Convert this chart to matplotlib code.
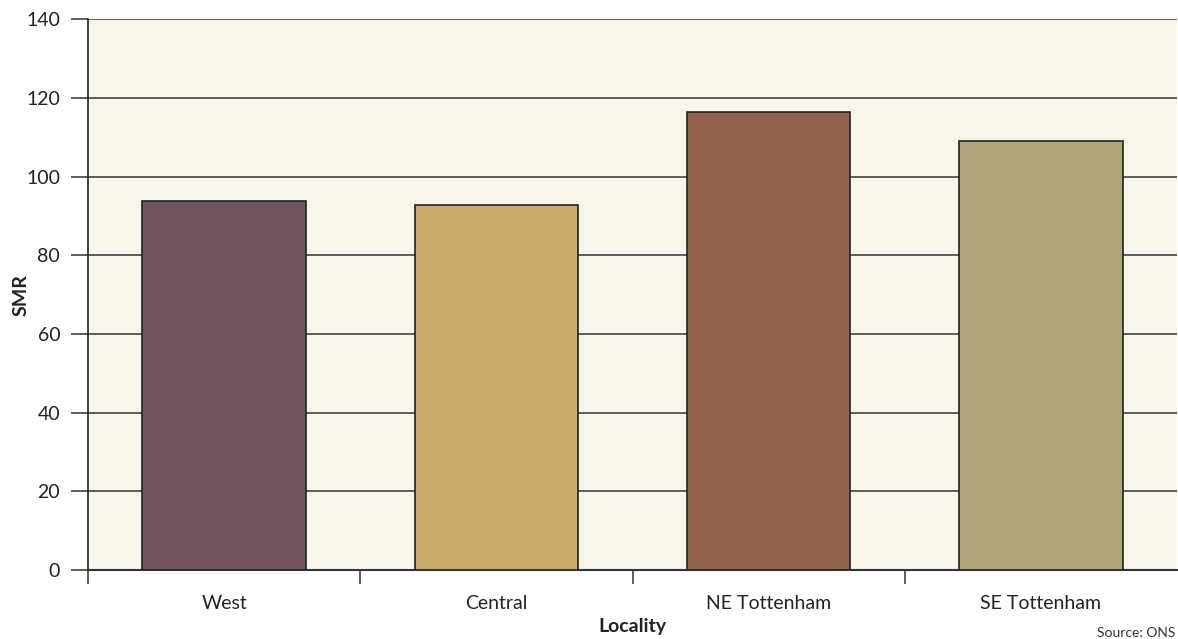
import matplotlib.pyplot as plt
import numpy as np

# SMR by locality
localities = ['West', 'Central', 'NE Tottenham', 'SE Tottenham']
smr = [93.7, 92.7, 116.4, 109.1]
bar_colours = ['#715460', '#C9AA69', '#93644C', '#AFA578']

plt.rcParams['font.family'] = ['Lato', 'DejaVu Sans']

fig = plt.figure(figsize=(11.78, 6.39), dpi=100)
ax = fig.add_axes([0.0747, 0.108, 0.9245, 0.862])
ax.set_facecolor('#F8F5EA')

x = np.arange(len(localities))
ax.bar(x, smr, width=0.6, color=bar_colours, edgecolor='#222222', linewidth=1.2, zorder=3)

ax.set_xlim(-0.5, len(localities) - 0.5)
ax.set_ylim(0, 140)
ax.set_yticks(np.arange(0, 141, 20))
ax.yaxis.grid(True, color='#333333', linewidth=1.1, zorder=1)
ax.set_axisbelow(True)

# category labels centred on bars, tick marks on category boundaries
ax.set_xticks(x)
ax.set_xticklabels(localities, fontsize=14, color='#222222')
ax.tick_params(axis='x', length=0, pad=18)
ax.set_xticks(np.arange(-0.5, len(localities) - 0.5, 1), minor=True)
ax.tick_params(axis='x', which='minor', length=10, width=1.1, color='#333333', direction='out')
ax.tick_params(axis='y', length=12, width=1.1, color='#333333', labelsize=14,
               labelcolor='#222222', pad=8)

for side in ['top', 'right']:
    ax.spines[side].set_visible(False)
ax.spines['left'].set_color('#222222')
ax.spines['left'].set_linewidth(1.2)
ax.spines['bottom'].set_color('#333333')
ax.spines['bottom'].set_linewidth(1.5)

ax.set_ylabel('SMR', fontsize=14, fontweight='bold', color='#222222')
ax.yaxis.set_label_coords(-0.054, 0.5)
ax.set_xlabel('Locality', fontsize=14, fontweight='bold', color='#222222', labelpad=4)

fig.text(0.998, 0.0, 'Source: ONS', fontsize=10, color='#333333', ha='right', va='bottom')

fig.savefig('out.png', dpi=100, facecolor='white')
